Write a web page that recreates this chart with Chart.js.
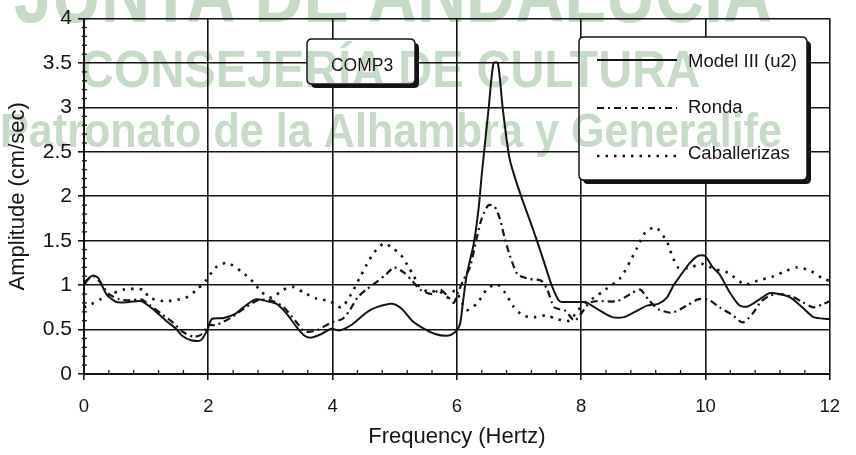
<!DOCTYPE html>
<html><head><meta charset="utf-8">
<script src="https://cdn.jsdelivr.net/npm/chart.js@4.4.1/dist/chart.umd.min.js"></script>
<style>html,body{margin:0;padding:0;background:#fff;overflow:hidden}canvas{display:block}</style>
</head><body>
<canvas id="c" width="856" height="455"></canvas>
<script>
const seriesNames = ['Model III (u2)', 'Ronda', 'Caballerizas'];

const freqModel = [0, 0.08, 0.15, 0.23, 0.36, 0.52, 0.73, 0.92, 1.11, 1.32, 1.48, 1.58, 1.72, 1.88, 1.98, 2.06, 2.25, 2.44, 2.60, 2.76, 2.94, 3.10, 3.26, 3.42, 3.55, 3.66, 3.82, 3.98, 4.11, 4.32, 4.54, 4.70, 4.96, 5.12, 5.28, 5.47, 5.65, 5.84, 5.97, 6.05, 6.10, 6.16, 6.27, 6.35, 6.40, 6.51, 6.59, 6.66, 6.74, 6.85, 7.01, 7.22, 7.38, 7.52, 7.65, 7.81, 8.04, 8.10, 8.31, 8.50, 8.69, 8.84, 9.06, 9.24, 9.38, 9.48, 9.59, 9.75, 9.88, 9.99, 10.12, 10.23, 10.39, 10.55, 10.68, 10.87, 11.03, 11.19, 11.37, 11.56, 11.74, 11.98, 12];
const ampModel = [1.0, 1.08, 1.11, 1.08, 0.90, 0.81, 0.81, 0.82, 0.73, 0.60, 0.51, 0.43, 0.38, 0.38, 0.49, 0.62, 0.63, 0.68, 0.77, 0.84, 0.82, 0.79, 0.68, 0.53, 0.43, 0.41, 0.45, 0.51, 0.49, 0.56, 0.69, 0.75, 0.79, 0.73, 0.60, 0.51, 0.45, 0.43, 0.47, 0.56, 0.82, 1.12, 1.46, 1.86, 2.24, 2.98, 3.50, 3.50, 2.98, 2.42, 2.05, 1.64, 1.31, 1.01, 0.82, 0.81, 0.81, 0.80, 0.71, 0.64, 0.64, 0.69, 0.77, 0.79, 0.86, 0.99, 1.10, 1.25, 1.33, 1.33, 1.20, 1.12, 0.92, 0.77, 0.76, 0.84, 0.91, 0.90, 0.86, 0.75, 0.64, 0.62, 0.62];

const freqRonda = [0, 0.15, 0.25, 0.4, 0.57, 0.75, 0.92, 1.05, 1.24, 1.43, 1.6, 1.77, 1.9, 2.0, 2.12, 2.38, 2.6, 2.8, 3.0, 3.2, 3.4, 3.55, 3.74, 3.98, 4.16, 4.27, 4.40, 4.54, 4.70, 4.86, 4.99, 5.15, 5.28, 5.41, 5.60, 5.73, 5.87, 5.95, 6.02, 6.10, 6.21, 6.32, 6.40, 6.51, 6.61, 6.69, 6.77, 6.85, 6.98, 7.17, 7.36, 7.46, 7.57, 7.75, 7.89, 8.0, 8.13, 8.26, 8.58, 8.79, 8.95, 9.08, 9.24, 9.46, 9.70, 9.88, 10.04, 10.23, 10.44, 10.60, 10.76, 10.89, 11.03, 11.2, 11.40, 11.56, 11.74, 11.90, 12];
const ampRonda = [1.03, 1.1, 1.04, 0.9, 0.84, 0.83, 0.84, 0.78, 0.68, 0.58, 0.47, 0.42, 0.45, 0.55, 0.55, 0.64, 0.75, 0.83, 0.83, 0.76, 0.6, 0.48, 0.49, 0.58, 0.62, 0.71, 0.86, 0.95, 1.03, 1.12, 1.20, 1.14, 1.05, 0.95, 0.90, 0.95, 0.86, 0.8, 0.92, 1.05, 1.2, 1.53, 1.75, 1.90, 1.88, 1.75, 1.53, 1.34, 1.12, 1.07, 1.05, 0.94, 0.75, 0.71, 0.60, 0.68, 0.80, 0.82, 0.82, 0.90, 0.95, 0.84, 0.73, 0.69, 0.77, 0.84, 0.84, 0.75, 0.66, 0.58, 0.68, 0.81, 0.88, 0.9, 0.87, 0.81, 0.75, 0.79, 0.82];

const freqCab = [0, 0.1, 0.26, 0.45, 0.63, 0.95, 1.05, 1.3, 1.64, 1.8, 1.96, 2.12, 2.30, 2.54, 2.73, 2.86, 3.02, 3.21, 3.37, 3.53, 3.74, 3.95, 4.14, 4.3, 4.45, 4.54, 4.67, 4.83, 4.96, 5.10, 5.20, 5.31, 5.39, 5.55, 5.71, 5.84, 5.97, 6.05, 6.16, 6.32, 6.48, 6.64, 6.77, 6.90, 7.06, 7.25, 7.44, 7.60, 7.81, 7.95, 8.10, 8.21, 8.39, 8.63, 8.79, 8.90, 9.03, 9.20, 9.38, 9.46, 9.56, 9.72, 9.94, 10.15, 10.36, 10.63, 10.84, 11.10, 11.29, 11.48, 11.69, 11.90, 12];
const ampCab = [0.75, 0.78, 0.84, 0.9, 0.95, 0.95, 0.86, 0.82, 0.86, 0.94, 1.05, 1.2, 1.25, 1.15, 1.03, 0.92, 0.86, 0.95, 0.98, 0.92, 0.85, 0.82, 0.75, 0.9, 1.1, 1.22, 1.37, 1.47, 1.42, 1.34, 1.23, 1.10, 0.99, 0.92, 0.94, 0.86, 0.94, 0.85, 0.72, 0.79, 0.95, 1.01, 0.92, 0.77, 0.66, 0.64, 0.66, 0.62, 0.60, 0.72, 0.82, 0.86, 0.95, 1.08, 1.27, 1.42, 1.59, 1.65, 1.49, 1.34, 1.20, 1.19, 1.24, 1.18, 1.14, 1.01, 1.05, 1.10, 1.16, 1.20, 1.16, 1.07, 1.05];

const xTickValues = [0, 2, 4, 6, 8, 10, 12];
const xTickLabels = ['0', '2', '4', '6', '8', '10', '12'];
const yTickValues = [0, 0.5, 1, 1.5, 2, 2.5, 3, 3.5, 4];
const yTickLabels = ['0', '0.5', '1', '1.5', '2', '2.5', '3', '3.5', '4'];
const xTitle = 'Frequency (Hertz)';
const yTitle = 'Amplitude (cm/sec)';
const boxLabel = 'COMP3';
const watermarkLines = ['JUNTA DE ANDALUCIA', 'CONSEJERÍA DE CULTURA', 'Patronato de la Alhambra y Generalife'];

const FONT = '"Liberation Sans", Arial, Helvetica, sans-serif';
const INK = '#141414';
const toPoints = (xs, ys) => xs.map((x, i) => ({ x: x, y: ys[i] }));

function roundRect(ctx, x, y, w, h, r) {
  ctx.beginPath();
  ctx.moveTo(x + r, y);
  ctx.lineTo(x + w - r, y); ctx.quadraticCurveTo(x + w, y, x + w, y + r);
  ctx.lineTo(x + w, y + h - r); ctx.quadraticCurveTo(x + w, y + h, x + w - r, y + h);
  ctx.lineTo(x + r, y + h); ctx.quadraticCurveTo(x, y + h, x, y + h - r);
  ctx.lineTo(x, y + r); ctx.quadraticCurveTo(x, y, x + r, y);
  ctx.closePath();
}
function shadowBox(ctx, x, y, w, h) {
  ctx.fillStyle = INK;
  roundRect(ctx, x + 4, y + 4, w, h, 5); ctx.fill();
  ctx.fillStyle = '#fff';
  roundRect(ctx, x, y, w, h, 5); ctx.fill();
  ctx.strokeStyle = INK; ctx.lineWidth = 1.5; ctx.stroke();
}

const minorTicks = {
  id: 'minorTicks',
  beforeDatasetsDraw(chart) {
    const { ctx, scales: { x, y } } = chart;
    ctx.save();
    ctx.strokeStyle = INK; ctx.lineWidth = 1.3;
    for (let i = 1; i < 30; i++) {
      if (i % 5 === 0) continue;
      const px = x.getPixelForValue(i * 0.4);
      ctx.beginPath(); ctx.moveTo(px, y.bottom); ctx.lineTo(px, y.bottom - 4); ctx.stroke();
    }
    for (let i = 1; i < 40; i++) {
      if (i % 5 === 0) continue;
      const py = y.getPixelForValue(i * 0.1);
      ctx.beginPath(); ctx.moveTo(x.left - 2, py); ctx.lineTo(x.left + 3, py); ctx.stroke();
    }
    ctx.restore();
  }
};

const boxes = {
  id: 'boxes',
  afterDatasetsDraw(chart) {
    const ctx = chart.ctx;
    ctx.save();
    shadowBox(ctx, 307, 39, 108, 45);
    ctx.fillStyle = INK; ctx.font = '17.5px ' + FONT;
    ctx.textAlign = 'center'; ctx.textBaseline = 'alphabetic';
    ctx.fillText(boxLabel, 362, 71);
    shadowBox(ctx, 579, 37, 228, 143);
    const rows = [66.5, 113, 159];
    const lineY = [60, 108, 156];
    chart.data.datasets.forEach((ds, i) => {
      ctx.save();
      ctx.strokeStyle = ds.borderColor; ctx.lineWidth = ds.borderWidth;
      ctx.setLineDash(ds.borderDash || []);
      ctx.beginPath(); ctx.moveTo(597, lineY[i]); ctx.lineTo(677, lineY[i]); ctx.stroke();
      ctx.restore();
      ctx.fillStyle = INK; ctx.font = '18.5px ' + FONT;
      ctx.textAlign = 'left'; ctx.textBaseline = 'alphabetic';
      ctx.fillText(ds.label, 688, rows[i]);
    });
    ctx.restore();
  }
};

const watermark = {
  id: 'watermark',
  afterDraw(chart) {
    const ctx = chart.ctx;
    ctx.save();
    ctx.globalCompositeOperation = 'darken';
    ctx.fillStyle = '#c6dbc6';
    ctx.textAlign = 'left'; ctx.textBaseline = 'alphabetic';
    const specs = [
      { font: 'bold 84px ' + FONT, x: 14, y: 22, w: 758 },
      { font: 'bold 52px ' + FONT, x: 80, y: 87, w: 620 },
      { font: 'bold 49px ' + FONT, x: 0, y: 147, w: 782 }
    ];
    watermarkLines.forEach((t, i) => {
      const s = specs[i];
      ctx.font = s.font;
      const nat = ctx.measureText(t).width;
      ctx.save();
      ctx.translate(s.x, s.y);
      ctx.scale(s.w / nat, 1);
      ctx.fillText(t, 0, 0);
      ctx.restore();
    });
    ctx.restore();
  }
};

new Chart(document.getElementById('c'), {
  type: 'line',
  data: {
    datasets: [
      { label: seriesNames[0], data: toPoints(freqModel, ampModel), borderColor: INK, borderWidth: 2, borderDash: [], pointRadius: 0, tension: 0.25, fill: false },
      { label: seriesNames[1], data: toPoints(freqRonda, ampRonda), borderColor: INK, borderWidth: 2.2, borderDash: [7, 4, 2, 4], pointRadius: 0, tension: 0.25, fill: false },
      { label: seriesNames[2], data: toPoints(freqCab, ampCab), borderColor: INK, borderWidth: 2.6, borderDash: [2.5, 6], pointRadius: 0, tension: 0.25, fill: false }
    ]
  },
  options: {
    responsive: false,
    animation: false,
    layout: { padding: { top: 15, right: 20, left: 0, bottom: 0 } },
    plugins: { legend: { display: false }, tooltip: { enabled: false } },
    scales: {
      x: {
        type: 'linear', min: 0, max: 12,
        afterBuildTicks: s => { s.ticks = xTickValues.map(v => ({ value: v })); },
        ticks: { callback: v => xTickLabels[xTickValues.indexOf(v)], color: INK, font: { family: FONT, size: 18.5 }, padding: 16, maxRotation: 0 },
        grid: { color: INK, lineWidth: 1.6, tickLength: 6, tickColor: INK, tickWidth: 1.6 },
        border: { color: INK, width: 2 },
        title: { display: true, text: xTitle, color: INK, font: { family: FONT, size: 22 }, padding: { top: 0, bottom: 5 } },
        afterFit: s => { s.height = 81; }
      },
      y: {
        type: 'linear', min: 0, max: 4,
        afterBuildTicks: s => { s.ticks = yTickValues.map(v => ({ value: v })); },
        ticks: { callback: v => yTickLabels[yTickValues.indexOf(v)], color: INK, font: { family: FONT, size: 21 }, padding: 6 },
        grid: { color: INK, lineWidth: 1.6, tickLength: 6, tickColor: INK, tickWidth: 1.6 },
        border: { color: INK, width: 2 },
        title: { display: true, text: yTitle, color: INK, font: { family: FONT, size: 22 }, padding: { top: 5, bottom: 0 } },
        afterFit: s => { s.width = 84; }
      }
    }
  },
  plugins: [minorTicks, boxes, watermark]
});
</script>
</body></html>
